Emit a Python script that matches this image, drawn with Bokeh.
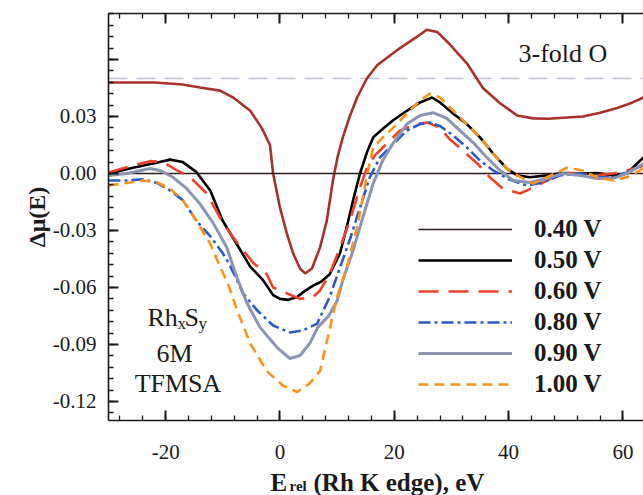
from bokeh.plotting import figure
from bokeh.layouts import column
from bokeh.models import (Range1d, LinearAxis, FixedTicker, CustomJSTickFormatter,
                          Label, Legend, LegendItem, Span)
from bokeh.core.properties import value
from bokeh.embed import file_html
from bokeh.resources import INLINE

SERIF = "Liberation Serif"

# ---- data: Rh K-edge difference spectra, delta-mu(E) = mu(V) - mu(0.40 V) ----
# 0.40 V is the reference potential, so its difference curve is zero everywhere
e_040 = [-30, 63.6]
mu_040 = [0.0, 0.0]

e_050 = [-30, -25.7, -22.2, -19.2, -17, -14.6, -12.2, -10, -7.6, -5.2, -3, -1.2, 0, 1.45,
         3, 4, 5.8, 7.2, 8.7, 10.5, 11.7, 12.8, 14, 15.2, 16.3, 18, 19.8, 22.2, 24.5, 26.6,
         28, 30.3, 32.7, 35, 37.3, 39.7, 41.5, 43.7, 46.7, 49.5, 52.5, 55.4, 58.3, 60.7,
         62.4, 63.6]
mu_050 = [0.0, 0.003, 0.0053, 0.0073, 0.006, 0.0007, -0.009, -0.025, -0.037, -0.049, -0.056,
          -0.064, -0.066, -0.0665, -0.065, -0.0626, -0.059, -0.057, -0.053, -0.042, -0.028,
          -0.014, 0.0, 0.011, 0.019, 0.0235, 0.028, 0.033, 0.0374, 0.040, 0.0374, 0.0315,
          0.026, 0.019, 0.0105, 0.0026, -0.001, -0.002, -0.001, 0.0002, 0.0, 0.0002, -0.001,
          0.0, 0.005, 0.0085]

e_060 = [-30, -26, -22.7, -20.5, -18, -15.7, -12.8, -10, -7.6, -4.7, -2.3, -1.2, 1.2, 3.5,
         5.8, 7, 8.7, 10.5, 12.2, 14, 15.2, 16.6, 18, 21, 24, 25.9, 28, 29.7, 32, 34.5, 36.7,
         39, 42, 44.3, 46.7, 49.5, 52.5, 55.4, 58.3, 60.7, 62.4, 63.6]
mu_060 = [0.0005, 0.004, 0.0065, 0.006, 0.0016, -0.002, -0.0106, -0.026, -0.036, -0.047,
          -0.053, -0.060, -0.063, -0.066, -0.065, -0.0616, -0.053, -0.039, -0.025, -0.0074,
          0.003, 0.0095, 0.0137, 0.0226, 0.026, 0.0268, 0.024, 0.018, 0.012, 0.0053, -0.002,
          -0.008, -0.0105, -0.0074, -0.0037, 0.0005, 0.0, -0.001, 0.0, 0.0016, 0.003, 0.004]

e_080 = [-30, -26.8, -24, -21.5, -19.2, -17, -14.6, -12.2, -10, -9, -7.6, -6.5, -4, -1.2,
         1.75, 4, 6.5, 8.7, 10.5, 12.2, 14, 15.7, 17.5, 19.8, 22.2, 24.5, 26.2, 28, 30.3,
         32.7, 35, 37.3, 40, 43.2, 46, 49, 52.5, 56, 58.3, 60.7, 63, 63.6]
mu_080 = [-0.0037, -0.0037, -0.003, -0.005, -0.009, -0.014, -0.025, -0.033, -0.042, -0.047,
          -0.0555, -0.063, -0.072, -0.080, -0.0837, -0.0826, -0.079, -0.065, -0.0495, -0.035,
          -0.018, -0.002, 0.0085, 0.0155, 0.0226, 0.026, 0.0268, 0.025, 0.020, 0.0137, 0.0068,
          0.0016, -0.003, -0.0063, -0.0047, -0.001, 0.0, -0.002, -0.002, 0.0005, 0.004, 0.005]

e_090 = [-30, -26.8, -22.7, -21, -18.7, -16.3, -14, -11.7, -9.3, -7.5, -5.8, -3.5, -0.5,
         1.75, 3.5, 5.2, 6.6, 8.5, 10, 11, 12.8, 14.5, 16.3, 18, 19.8, 22.2, 24.5, 26.8, 29.2,
         31.5, 33.8, 36.2, 38.5, 40.8, 43.7, 46.7, 49.5, 52.5, 55.4, 58.3, 60.7, 63, 63.6]
mu_090 = [-0.001, 0.0, 0.0026, 0.0016, -0.002, -0.008, -0.016, -0.026, -0.039, -0.055,
          -0.068, -0.081, -0.0916, -0.0974, -0.0958, -0.0895, -0.081, -0.075, -0.067, -0.056,
          -0.0405, -0.023, -0.0053, 0.007, 0.016, 0.026, 0.0305, 0.032, 0.029, 0.0226, 0.0163,
          0.0084, 0.0016, -0.0037, -0.0047, -0.0026, 0.0, -0.001, -0.0026, -0.0026, 0.0,
          0.004, 0.005]

e_100 = [-30, -26.8, -24, -21.5, -19.2, -17, -14.6, -12.2, -10.5, -9.1, -7.5, -5.2, -2.3,
         0.5, 3, 5.2, 7, 10, 11.7, 13.5, 15.3, 16.3, 18, 19.8, 22.2, 24.5, 26.2, 28, 30.3,
         32.7, 35, 37.3, 39.7, 41.5, 44.3, 46.7, 50.2, 53, 55.4, 58.3, 60.7, 63, 63.6]
mu_100 = [-0.0063, -0.005, -0.0037, -0.0047, -0.008, -0.014, -0.025, -0.037, -0.049, -0.058,
          -0.072, -0.0895, -0.104, -0.1116, -0.115, -0.1105, -0.104, -0.065, -0.0495, -0.028,
          0.0, 0.0137, 0.019, 0.024, 0.0316, 0.0384, 0.042, 0.040, 0.033, 0.026, 0.019,
          0.0105, 0.0026, -0.001, -0.0053, -0.002, 0.003, 0.0016, -0.002, -0.0037, -0.002,
          0.0016, 0.003]

# FEFF difference for 3-fold O adsorption, shifted up by 0.05
theory_offset = 0.05
e_theory = [-30, -22, -17, -14, -10.5, -8.2, -5.2, -3.2, -1.75, -1.2, 0, 1.2, 2.3, 3.5, 4.4,
            5.6, 7, 8.2, 9.3, 10.1, 11, 12.2, 13.5, 15.2, 17, 21, 24, 25.7, 27.5, 29.7, 32.7,
            35.5, 38.5, 41.5, 44.3, 47, 50.2, 53, 56, 59, 61.7, 63.6]
mu_theory = [0.0479, 0.0479, 0.0468, 0.0453, 0.0436, 0.040, 0.033, 0.024, 0.015, 0.0, -0.018,
             -0.0316, -0.042, -0.050, -0.0526, -0.050, -0.039, -0.0247, -0.003, 0.009, 0.019,
             0.030, 0.040, 0.050, 0.057, 0.066, 0.072, 0.0757, 0.0745, 0.068, 0.058, 0.045,
             0.037, 0.0305, 0.029, 0.0288, 0.0295, 0.030, 0.032, 0.0345, 0.0374, 0.040]

x_major = [-20, 0, 20, 40, 60]
y_major = [-0.12, -0.09, -0.06, -0.03, 0.0, 0.03, 0.06]

INK = "#1a1a1a"

# ---- main figure ----
p = figure(width=643, height=470, output_backend="svg", toolbar_location=None,
           x_range=Range1d(-30, 63.6), y_range=Range1d(-0.130, 0.0842),
           min_border_left=108, min_border_right=0, min_border_top=13,
           min_border_bottom=50)
p.outline_line_color = None
p.xgrid.visible = False
p.ygrid.visible = False
p.background_fill_color = "white"
p.border_fill_color = "white"

x_ticker = FixedTicker(ticks=x_major, minor_ticks=list(range(-28, 64, 4)))
y_ticker = FixedTicker(ticks=y_major,
                       minor_ticks=[round(i * 0.006, 3) for i in range(-21, 15)])

top_axis = LinearAxis(ticker=x_ticker,
                      formatter=CustomJSTickFormatter(code="return '';"))
p.add_layout(top_axis, "above")

xaxis = p.below[0]
yaxis = p.left[0]
xaxis.ticker = x_ticker
yaxis.ticker = y_ticker
xaxis.formatter = CustomJSTickFormatter(code="return tick.toFixed(0);")
yaxis.formatter = CustomJSTickFormatter(code="return tick > 0.05 ? '' : tick.toFixed(2);")

for ax in (xaxis, yaxis, top_axis):
    ax.axis_line_width = 1.6
    ax.axis_line_color = INK
    ax.major_tick_in = 10
    ax.major_tick_out = 0
    ax.minor_tick_in = 5
    ax.minor_tick_out = 0
    ax.major_tick_line_width = 2
    ax.major_tick_line_color = INK
    ax.minor_tick_line_width = 1.3
    ax.minor_tick_line_color = INK
    ax.major_label_text_font = SERIF
    ax.major_label_text_font_size = "21px"
    ax.major_label_text_color = INK

top_axis.major_label_text_font_size = "0px"
top_axis.major_label_standoff = 0

xaxis.major_label_standoff = 24
yaxis.major_label_standoff = 12

yaxis.axis_label = "Δμ(E)"
yaxis.axis_label_text_font = SERIF
yaxis.axis_label_text_font_style = "bold"
yaxis.axis_label_text_font_size = "24px"
yaxis.axis_label_text_color = INK
yaxis.axis_label_standoff = 0

# dashed baseline of the shifted theory curve
p.add_layout(Span(location=theory_offset, dimension="width", line_color="#c4bed6",
                  line_width=1.6, line_dash="19 9", level="underlay"))

p.line(e_theory, mu_theory, line_color="#a8322a", line_width=2.6)

r040 = p.line(e_040, mu_040, line_color="#2a1d1a", line_width=1.3)
r050 = p.line(e_050, mu_050, line_color="#000000", line_width=2.6)
r060 = p.line(e_060, mu_060, line_color="#f0402a", line_width=2.6, line_dash="20 10")
r080 = p.line(e_080, mu_080, line_color="#2a5cc8", line_width=2.6, line_dash="12 4 3 4")
r090 = p.line(e_090, mu_090, line_color="#8c94b4", line_width=3.0)
r100 = p.line(e_100, mu_100, line_color="#f7941d", line_width=2.6, line_dash="10 6")

legend = Legend(items=[LegendItem(label="0.40 V", renderers=[r040]),
                       LegendItem(label="0.50 V", renderers=[r050]),
                       LegendItem(label="0.60 V", renderers=[r060]),
                       LegendItem(label="0.80 V", renderers=[r080]),
                       LegendItem(label="0.90 V", renderers=[r090]),
                       LegendItem(label="1.00 V", renderers=[r100])],
                location=(310, 22), padding=0, margin=0, spacing=3,
                glyph_width=94, glyph_height=20, label_height=20, label_standoff=22,
                label_text_font=SERIF, label_text_font_size="25px",
                label_text_font_style="bold", label_text_color=INK,
                border_line_color=None, background_fill_alpha=0)
p.add_layout(legend)


def note(text, x, y, size, bold=False, align="left"):
    p.add_layout(Label(x=x, y=y, x_units="screen", y_units="screen", text=text,
                       text_font=SERIF, text_font_size=size,
                       text_font_style="bold" if bold else "normal",
                       text_color=INK, text_align=align,
                       text_baseline="alphabetic"))


# annotations inside the frame (offsets in px from the frame's lower-left corner)
note("3-fold O", 410, 367, "26px")
note("Rh", 39, 103, "26px")
note("x", 69, 97, "17px")
note("S", 76, 103, "26px")
note("y", 90, 97, "17px")
note("6M", 66, 67, "26px", align="center")
note("TFMSA", 69.5, 37, "26px", align="center")

# ---- strip under the plot carrying the x-axis title (with subscript) ----
# its frame lines up with the main frame, so x runs in page pixels 108..643
cap = figure(width=643, height=25, output_backend="svg", toolbar_location=None,
             x_range=Range1d(108, 643), y_range=Range1d(0, 25), title=None,
             min_border=0, x_axis_location=None, y_axis_location=None)
cap.outline_line_color = None
cap.xgrid.visible = False
cap.ygrid.visible = False
cap.background_fill_color = "white"
cap.border_fill_color = "white"

title_parts = ["E", "rel", "(Rh K edge), eV"]
title_x = [270, 289, 313]
title_y = [13, 10, 13]
title_size = ["25px", "15px", "25px"]
for t, tx, ty, ts in zip(title_parts, title_x, title_y, title_size):
    cap.text(x=[tx], y=[ty], text=[t], text_font=value(SERIF), text_font_size=ts,
             text_font_style="bold", text_color=INK, text_baseline="alphabetic")

page = column(p, cap, spacing=0)
open("out.html", "w").write(file_html(page, INLINE))
